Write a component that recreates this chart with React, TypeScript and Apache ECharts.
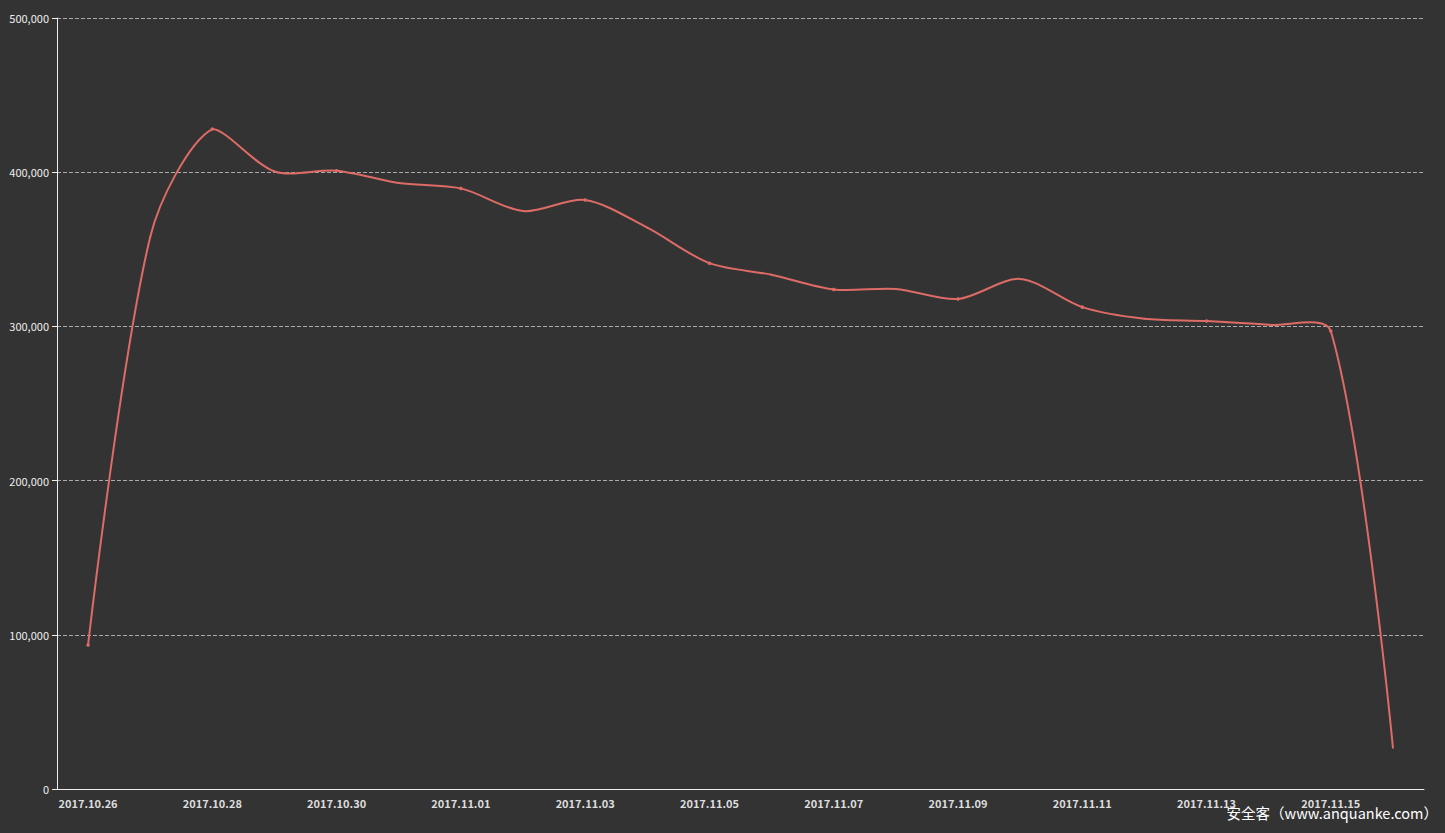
import React, { useEffect, useRef } from "react";
import * as echarts from "echarts";

const categories = [
  "2017.10.26", "2017.10.27", "2017.10.28", "2017.10.29", "2017.10.30", "2017.10.31",
  "2017.11.01", "2017.11.02", "2017.11.03", "2017.11.04", "2017.11.05", "2017.11.06",
  "2017.11.07", "2017.11.08", "2017.11.09", "2017.11.10", "2017.11.11", "2017.11.12",
  "2017.11.13", "2017.11.14", "2017.11.15", "2017.11.16",
];

const values = [
  93400, 358000, 428000, 400500, 401000, 393000,
  389500, 374800, 382000, 364000, 341000, 333500,
  324000, 324300, 317800, 330800, 312500, 305000,
  303500, 301000, 297000, 26800,
];

const yTicks = { min: 0, max: 500000, interval: 100000 };
const watermark = "安全客（www.anquanke.com）";

const FONT = "'Microsoft YaHei', 'Noto Sans CJK SC', 'Noto Sans', sans-serif";
const LINE_COLOR = "#dd6b66";
const SMOOTH = 0.3;

type P = [number, number];

export default function App() {
  const ref = useRef<HTMLDivElement>(null);
  useEffect(() => {
    if (!ref.current) return;
    const chart = echarts.init(ref.current, undefined, { renderer: "svg" });

    // Smooth segment (classic bezier smoothing) from point i to i+1, drawn through the axis scales.
    const renderSegment = (params: any, api: any) => {
      const i = params.dataIndex;
      const n = values.length;
      if (i >= n - 1) return null;
      const pts: P[] = values.map((v, k) => api.coord([k, v]) as P);
      let minX = Infinity, minY = Infinity, maxX = -Infinity, maxY = -Infinity;
      pts.forEach(([x, y]) => {
        minX = Math.min(minX, x); maxX = Math.max(maxX, x);
        minY = Math.min(minY, y); maxY = Math.max(maxY, y);
      });
      const clamp = (p: P): P => [
        Math.min(Math.max(p[0], minX), maxX),
        Math.min(Math.max(p[1], minY), maxY),
      ];
      const cpOut = (k: number): P => {
        const p = pts[k];
        if (k === 0) return p;
        const prev = pts[k - 1], next = pts[k + 1];
        const vx = next[0] - prev[0], vy = next[1] - prev[1];
        const lp = Math.hypot(p[0] - prev[0], p[1] - prev[1]);
        const ln = Math.hypot(p[0] - next[0], p[1] - next[1]);
        const r = ln / (ln + lp);
        return clamp([p[0] + vx * SMOOTH * r, p[1] + vy * SMOOTH * r]);
      };
      const cpIn = (k: number): P => {
        const p = pts[k];
        if (k === n - 1) return p;
        const prev = pts[k - 1], next = pts[k + 1];
        const vx = next[0] - prev[0], vy = next[1] - prev[1];
        const lp = Math.hypot(p[0] - prev[0], p[1] - prev[1]);
        const ln = Math.hypot(p[0] - next[0], p[1] - next[1]);
        const r = ln / (ln + lp);
        return clamp([p[0] - vx * SMOOTH * (1 - r), p[1] - vy * SMOOTH * (1 - r)]);
      };
      const a = pts[i], b = pts[i + 1];
      const c1 = cpOut(i), c2 = cpIn(i + 1);
      return {
        type: "bezierCurve",
        shape: {
          x1: a[0], y1: a[1], x2: b[0], y2: b[1],
          cpx1: c1[0], cpy1: c1[1], cpx2: c2[0], cpy2: c2[1],
        },
        style: { stroke: LINE_COLOR, lineWidth: 2, fill: null, lineCap: "round" },
        silent: true,
      };
    };

    chart.setOption({
      animation: false,
      backgroundColor: "#333333",
      grid: { left: 57, right: 21, top: 18, bottom: 44 },
      xAxis: {
        type: "category",
        data: categories,
        boundaryGap: true,
        axisLine: { lineStyle: { color: "#eeeeee", width: 1 } },
        axisTick: { lineStyle: { color: "#eeeeee" } },
        axisLabel: {
          color: "#dddddd",
          fontSize: 11,
          fontWeight: "bold",
          fontFamily: FONT,
          interval: 1,
          margin: 8,
        },
        splitLine: { show: false },
      },
      yAxis: {
        type: "value",
        min: yTicks.min,
        max: yTicks.max,
        interval: yTicks.interval,
        axisLine: { show: true, lineStyle: { color: "#eeeeee", width: 1 } },
        axisTick: { show: true, lineStyle: { color: "#eeeeee" } },
        axisLabel: {
          color: "#eeeeee",
          fontSize: 11,
          fontFamily: FONT,
          formatter: (v: number) => v.toLocaleString("en-US"),
        },
        splitLine: { show: true, lineStyle: { color: "#aaaaaa", type: "dashed" } },
      },
      series: [
        {
          type: "custom",
          data: values.map((v, i) => [i, v]),
          encode: { x: 0, y: 1 },
          renderItem: renderSegment,
          z: 2,
        },
        {
          type: "line",
          data: values,
          symbol: "circle",
          showAllSymbol: true,
          symbolSize: (_v: any, p: any) => (p.dataIndex % 2 === 0 && p.dataIndex < values.length - 1 ? 3.5 : 0),
          itemStyle: { color: LINE_COLOR },
          lineStyle: { opacity: 0, width: 0 },
          z: 3,
        },
      ],
      graphic: [
        {
          type: "text",
          right: 7,
          bottom: 13,
          style: {
            text: watermark,
            fill: "#ffffff",
            fontSize: 14.5,
            fontFamily: FONT,
          },
        },
      ],
    });
    return () => chart.dispose();
  }, []);
  return <div ref={ref} style={{ width: 1445, height: 833, position: "absolute", left: 0, top: 0 }} />;
}
